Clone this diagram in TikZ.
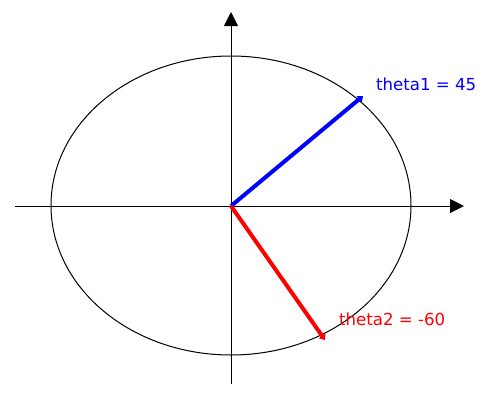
\documentclass[tikz,border=0pt]{standalone}
\usepackage{fontspec}
\setmainfont{DejaVu Sans}
\usetikzlibrary{arrows.meta}
\begin{document}
\begin{tikzpicture}[x=1pt,y=-1pt,
  axisline/.style={line width=1pt,-{Triangle[length=14pt,width=14pt]}},
  vecline/.style={line width=4pt,-{Triangle[length=5pt,width=8pt]}},
  lbl/.style={anchor=base west,inner sep=0pt,font=\fontsize{16.6}{18}\selectfont}]
\useasboundingbox (0,0) rectangle (500,400);
\coordinate (O) at (231,206);
\coordinate (xl) at (15,206);
\coordinate (xr) at (464,206);
\coordinate (yb) at (231,384);
\coordinate (yt) at (231,12);
\coordinate (p1) at (363,96);
\coordinate (p2) at (325,340);
\draw[line width=1pt] (231,205.5) ellipse [x radius=180, y radius=149.5];
\draw[axisline] (xl) -- (xr);
\draw[axisline] (yb) -- (yt);
\draw[vecline,blue] (O) -- (p1);
\draw[vecline,red] (O) -- (p2);
\node[lbl,text=blue] (t1) at (376,90) {theta1 = 45};
\node[lbl,text=red] (t2) at (339,325) {theta2 = -60};
\end{tikzpicture}
\end{document}
